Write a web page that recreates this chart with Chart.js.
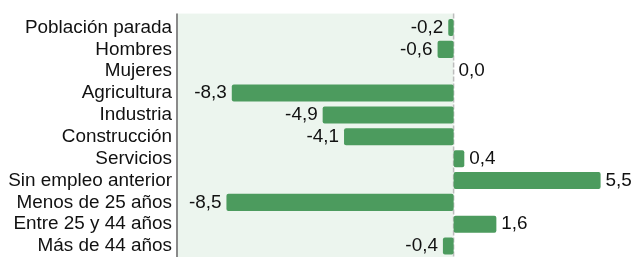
<!DOCTYPE html>
<html>
<head>
<meta charset="utf-8">
<script src="https://cdn.jsdelivr.net/npm/chart.js@4"></script>
<style>
html,body{margin:0;padding:0;background:#fff;}
#wrap{width:634px;height:257px;position:relative;}
</style>
</head>
<body>
<div id="wrap"><canvas id="c" width="634" height="257"></canvas></div>
<script>
const categories = ["Población parada","Hombres","Mujeres","Agricultura","Industria","Construcción","Servicios","Sin empleo anterior","Menos de 25 años","Entre 25 y 44 años","Más de 44 años"];
const values = [-0.2,-0.6,0.0,-8.3,-4.9,-4.1,0.4,5.5,-8.5,1.6,-0.4];

const FONT = "'Liberation Sans', Arial, sans-serif";
const FS = 18.9;
const BAR = '#4c9b5e';
const BG = '#ecf5ee';

const fmt = v => v.toFixed(1).replace('.', ',');

const decor = {
  id: 'decor',
  beforeDatasetsDraw(chart) {
    const {ctx, chartArea, scales} = chart;
    const x0 = scales.x.getPixelForValue(0);
    const top = chartArea.top - 3;
    const bottom = 257;
    ctx.save();
    ctx.fillStyle = BG;
    ctx.fillRect(chartArea.left, top, x0 - chartArea.left, bottom - top);
    ctx.strokeStyle = '#bdbdbd';
    ctx.lineWidth = 1.5;
    ctx.setLineDash([5, 2]);
    ctx.beginPath();
    ctx.moveTo(x0, top);
    ctx.lineTo(x0, bottom);
    ctx.stroke();
    ctx.setLineDash([]);
    ctx.strokeStyle = '#8a8a8a';
    ctx.lineWidth = 2;
    ctx.beginPath();
    ctx.moveTo(chartArea.left, top);
    ctx.lineTo(chartArea.left, bottom);
    ctx.stroke();
    ctx.restore();
  },
  afterDatasetsDraw(chart) {
    const {ctx} = chart;
    const meta = chart.getDatasetMeta(0);
    const x0 = chart.scales.x.getPixelForValue(0);
    ctx.save();
    ctx.font = FS + 'px ' + FONT;
    ctx.fillStyle = '#111';
    ctx.textBaseline = 'middle';
    meta.data.forEach((bar, i) => {
      const v = values[i];
      if (v < 0) {
        ctx.textAlign = 'right';
        ctx.fillText(fmt(v), bar.x - 5, bar.y);
      } else {
        ctx.textAlign = 'left';
        ctx.fillText(fmt(v), Math.max(bar.x, x0) + 5, bar.y);
      }
    });
    ctx.restore();
  }
};

new Chart(document.getElementById('c'), {
  type: 'bar',
  data: {
    labels: categories,
    datasets: [{
      data: values,
      backgroundColor: BAR,
      borderRadius: 2,
      borderSkipped: false,
      barPercentage: 0.78,
      categoryPercentage: 1.0
    }]
  },
  options: {
    indexAxis: 'y',
    responsive: false,
    animation: false,
    layout: {padding: {top: 16.6, bottom: 0, left: 0, right: 0}},
    plugins: {legend: {display: false}, tooltip: {enabled: false}},
    scales: {
      x: {
        display: false,
        min: -10.35,
        max: 6.75
      },
      y: {
        grid: {display: false, drawTicks: false},
        border: {display: false},
        ticks: {
          color: '#111',
          font: {family: FONT, size: FS},
          padding: 5,
          autoSkip: false
        },
        afterFit(scale) {
          scale.width = 177;
          scale.paddingTop = 0;
          scale.paddingBottom = 0;
        }
      }
    }
  },
  plugins: [decor]
});
</script>
</body>
</html>
